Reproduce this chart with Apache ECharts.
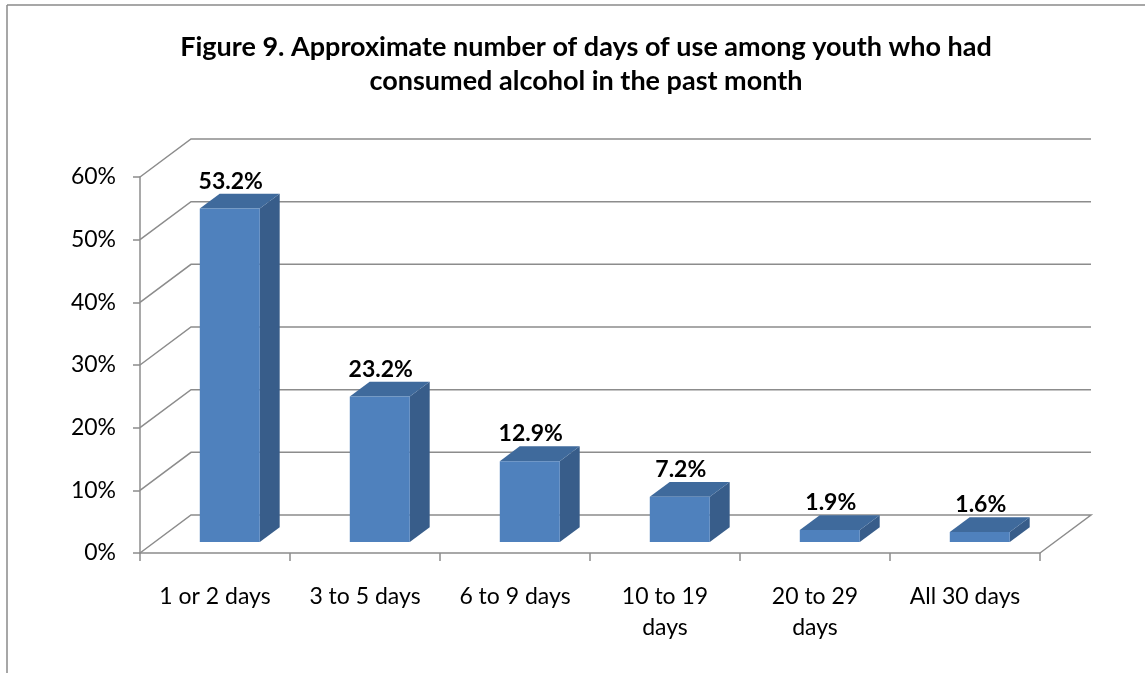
<!DOCTYPE html>
<html>
<head>
<meta charset="utf-8">
<script src="https://cdn.jsdelivr.net/npm/echarts@6/dist/echarts.min.js"></script>
<style>
  html, body { margin: 0; padding: 0; background: #fff; }
  #chart { width: 1145px; height: 673px; }
</style>
</head>
<body>
<div id="chart"></div>
<script>
// data
const categories = ['1 or 2 days', '3 to 5 days', '6 to 9 days', '10 to 19\ndays', '20 to 29\ndays', 'All 30 days'];
const values = [53.2, 23.2, 12.9, 7.2, 1.9, 1.6];
const yTicks = [0, 10, 20, 30, 40, 50, 60];

// fake 3D: depth offset of the back wall, in px
const DEPTH_X = 51;
const DEPTH_Y = -38;
const BAR_FRONT = 0.29;   // bar front face, as a fraction of the depth
const BAR_DEPTH = 0.39;   // bar thickness, as a fraction of the depth
const BAR_RATIO = 0.4;    // bar width / category band
const GRID_COLOR = '#8c8c8c';
const FONT = 'Lato';

const chart = echarts.init(document.getElementById('chart'));

function renderGrid(params, api) {
  const v = api.value(1);
  const band = api.size([1, 0])[0];
  const p0 = api.coord([0, v]);
  const p1 = api.coord([categories.length - 1, v]);
  const xl = p0[0] - band / 2;
  const xr = p1[0] + band / 2;
  const y = p0[1];
  const pts = [[xl, y], [xl + DEPTH_X, y + DEPTH_Y], [xr + DEPTH_X, y + DEPTH_Y]];
  if (v === 0) pts.push([xr, y]);
  return {
    type: 'polyline',
    shape: { points: pts },
    style: { stroke: GRID_COLOR, lineWidth: 1.5, fill: null }
  };
}

function renderBar(params, api) {
  const i = api.value(0);
  const v = api.value(1);
  const base = api.coord([i, 0]);
  const top = api.coord([i, v]);
  const band = api.size([1, 0])[0];
  const w = band * BAR_RATIO;
  const ox = DEPTH_X * BAR_FRONT, oy = DEPTH_Y * BAR_FRONT;
  const sx = DEPTH_X * BAR_DEPTH, sy = DEPTH_Y * BAR_DEPTH;
  const x0 = base[0] + ox - w / 2;
  const x1 = x0 + w;
  const yb = base[1] + oy;
  const yt = top[1] + oy;
  return {
    type: 'group',
    children: [
      {
        type: 'polygon',
        shape: { points: [[x1, yb], [x1, yt], [x1 + sx, yt + sy], [x1 + sx, yb + sy]] },
        style: { fill: '#385d8a' }
      },
      {
        type: 'polygon',
        shape: { points: [[x0, yt], [x1, yt], [x1 + sx, yt + sy], [x0 + sx, yt + sy]] },
        style: { fill: '#3f6a9c' }
      },
      {
        type: 'rect',
        shape: { x: x0, y: yt, width: w, height: yb - yt },
        style: { fill: '#4f81bd' }
      },
      {
        type: 'text',
        x: x0 + w / 2 + 1,
        y: yt + sy - 1,
        style: {
          text: v.toFixed(1) + '%',
          fill: '#000',
          font: 'bold 23px ' + FONT,
          align: 'center',
          verticalAlign: 'bottom'
        }
      }
    ]
  };
}

const option = {
  backgroundColor: '#fff',
  animation: false,
  title: {
    text: 'Figure 9. Approximate number of days of use among youth who had\nconsumed alcohol in the past month',
    left: 581,
    top: 25,
    textAlign: 'center',
    textStyle: {
      fontFamily: FONT,
      fontWeight: 'bold',
      fontSize: 27,
      lineHeight: 34,
      color: '#000'
    }
  },
  graphic: [
    { type: 'line', shape: { x1: 7, y1: 5, x2: 1145, y2: 5 }, style: { stroke: '#8a8a8a', lineWidth: 1.5 } },
    { type: 'line', shape: { x1: 7, y1: 5, x2: 7, y2: 673 }, style: { stroke: '#8a8a8a', lineWidth: 1.5 } }
  ],
  grid: {
    left: 140,
    right: 105,
    top: 177,
    bottom: 120
  },
  xAxis: {
    type: 'category',
    data: categories,
    axisLine: { lineStyle: { color: GRID_COLOR, width: 1.5 } },
    axisTick: { show: true, length: 8, lineStyle: { color: GRID_COLOR, width: 1.5 } },
    axisLabel: {
      color: '#000',
      fontFamily: FONT,
      fontSize: 23,
      lineHeight: 31,
      margin: 28,
      interval: 0
    },
    splitLine: { show: false }
  },
  yAxis: {
    type: 'value',
    min: 0,
    max: 60,
    interval: 10,
    axisLine: { show: true, lineStyle: { color: GRID_COLOR, width: 1.5 } },
    axisTick: { show: true, length: 7, lineStyle: { color: GRID_COLOR, width: 1.5 } },
    axisLabel: {
      color: '#000',
      fontFamily: FONT,
      fontSize: 23,
      margin: 24,
      formatter: '{value}%'
    },
    splitLine: { show: false }
  },
  series: [
    {
      type: 'custom',
      renderItem: renderGrid,
      data: yTicks.map(t => [0, t]),
      z: 1,
      silent: true
    },
    {
      type: 'custom',
      renderItem: renderBar,
      data: values.map((v, i) => [i, v]),
      z: 3
    }
  ]
};

chart.setOption(option);
window.addEventListener('resize', () => chart.resize());
</script>
</body>
</html>
